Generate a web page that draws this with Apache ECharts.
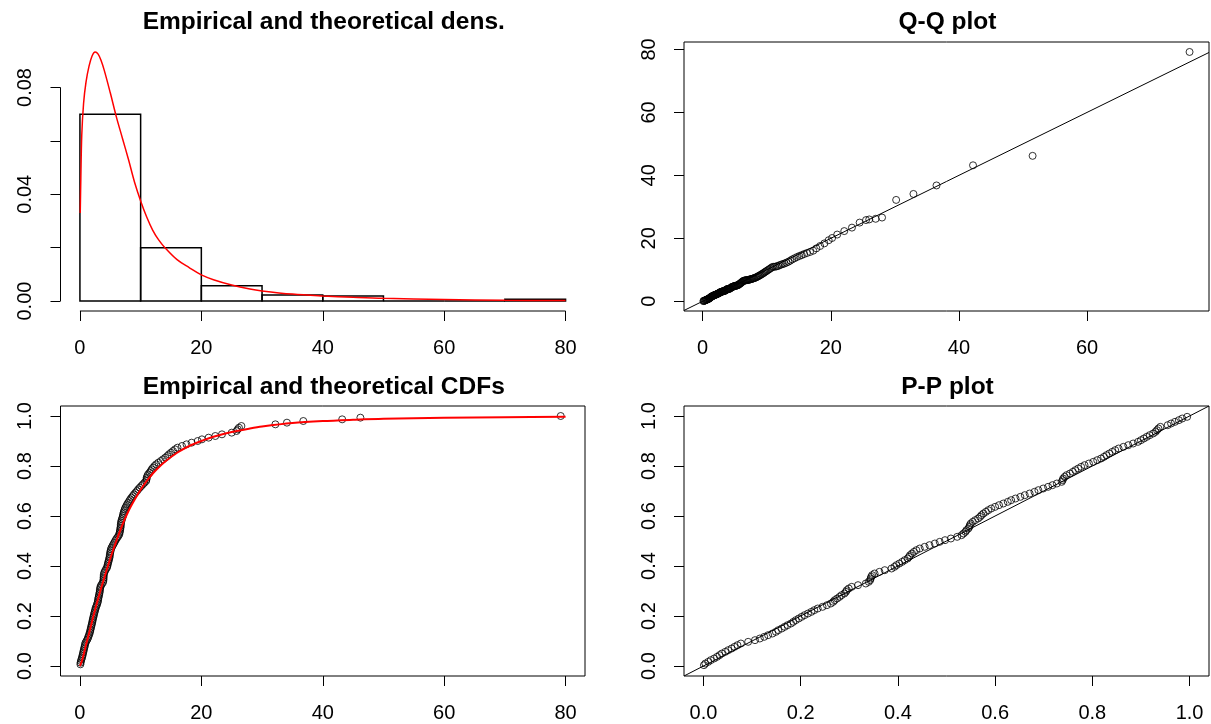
<!DOCTYPE html>
<html>
<head>
<meta charset="utf-8">
<script src="https://cdn.jsdelivr.net/npm/echarts@6/dist/echarts.min.js"></script>
<style>
html,body{margin:0;padding:0;background:#fff;}
#chart{width:1211px;height:724px;}
</style>
</head>
<body>
<div id="chart"></div>
<script>
// ---------------- data ----------------
const panelTitles = ["Empirical and theoretical dens.", "Q-Q plot", "Empirical and theoretical CDFs", "P-P plot"];

// histogram (density scale)
const histBinEdges = [0, 10, 20, 30, 40, 50, 60, 70, 80];
const histDensity = [0.0700, 0.0200, 0.0057, 0.0023, 0.0019, 0, 0, 0.0007];

// fitted (theoretical) density curve
const theoDensX = [0.05,0.15,0.3,0.6,1,1.5,2,2.5,3,3.5,4,5,6,7,8,9,10,11,12,13,14,16,18,20,22,25,28,30,35,40,45,50,60,70,80];
const theoDensY = [0.033,0.046,0.062,0.074,0.082,0.088,0.0918,0.0933,0.0925,0.0900,0.0865,0.078,0.069,0.061,0.053,0.0445,0.0375,0.0315,0.0265,0.0228,0.0200,0.0155,0.0125,0.0098,0.0080,0.0060,0.0045,0.0038,0.0026,0.0019,0.0014,0.0010,0.0006,0.0003,0.0002];

// fitted (theoretical) CDF curve
const theoCdfX = [0,0.25,0.5,1,1.5,2,2.5,3,3.5,4,5,6,7,8,9,10,11,12,13,14,16,18,20,22,25,28,30,35,40,45,50,60,70,80];
const theoCdfY = [0,0.015,0.035,0.085,0.13,0.178,0.225,0.27,0.312,0.352,0.43,0.5,0.565,0.62,0.665,0.705,0.74,0.77,0.795,0.817,0.853,0.88,0.9,0.917,0.936,0.95,0.958,0.972,0.98,0.985,0.989,0.993,0.995,0.997];

// empirical sample, sorted (n = 150)
const sampleSorted = [
0.08,0.10,0.17,0.25,0.34,0.41,0.475,0.53,0.60,0.66,
0.73,0.79,0.85,0.92,1.08,1.23,1.34,1.44,1.53,1.63,
1.70,1.75,1.82,1.89,1.95,2.02,2.07,2.13,2.19,2.26,
2.32,2.39,2.47,2.53,2.61,2.72,2.82,2.91,2.97,3.00,
3.06,3.12,3.17,3.24,3.27,3.30,3.35,3.42,3.58,3.78,
3.85,3.89,3.90,3.91,3.94,4.00,4.13,4.27,4.45,4.53,
4.58,4.65,4.73,4.79,4.87,4.91,4.94,4.99,5.04,5.11,
5.21,5.36,5.50,5.66,5.80,5.96,6.14,6.34,6.48,6.54,
6.60,6.63,6.69,6.72,6.74,6.77,6.83,6.91,7.00,7.07,
7.13,7.20,7.29,7.38,7.49,7.64,7.78,7.95,8.13,8.29,
8.49,8.71,8.91,9.15,9.40,9.60,9.85,10.11,10.37,10.63,
10.91,10.97,11.00,11.10,11.23,11.47,11.67,11.83,12.04,12.28,
12.56,12.92,13.32,13.68,14.06,14.39,14.67,15.00,15.33,15.67,
16.07,16.81,17.56,18.40,19.40,20.10,21.20,22.30,23.40,25.00,
25.80,26.00,26.20,26.60,32.20,34.10,36.80,43.20,46.20,79.20];

// theoretical quantiles (Q-Q x values)
const qqTheoretical = [
0.12,0.17,0.27,0.35,0.44,0.52,0.58,0.65,0.72,0.78,
0.85,0.92,0.98,1.06,1.13,1.20,1.28,1.35,1.43,1.50,
1.57,1.64,1.71,1.78,1.85,1.92,1.99,2.06,2.13,2.20,
2.27,2.34,2.41,2.48,2.56,2.63,2.70,2.78,2.85,2.93,
3.00,3.08,3.16,3.24,3.32,3.40,3.48,3.56,3.64,3.73,
3.81,3.89,3.98,4.06,4.14,4.23,4.31,4.40,4.49,4.57,
4.66,4.74,4.83,4.91,5.00,5.10,5.19,5.29,5.38,5.48,
5.57,5.67,5.76,5.86,5.95,6.05,6.15,6.26,6.36,6.46,
6.56,6.67,6.77,6.87,6.97,7.09,7.21,7.33,7.45,7.58,
7.70,7.82,7.94,8.07,8.22,8.37,8.52,8.67,8.81,8.96,
9.13,9.29,9.46,9.63,9.79,9.96,10.14,10.33,10.52,10.71,
10.90,11.11,11.33,11.56,11.78,12.00,12.27,12.53,12.80,13.08,
13.38,13.68,13.99,14.35,14.72,15.09,15.46,15.83,16.27,16.76,
17.26,17.75,18.33,19.00,19.67,20.20,21.00,22.10,23.30,24.50,
25.50,26.00,27.00,28.00,30.20,32.90,36.50,42.20,51.50,76.00];

// theoretical probabilities (P-P x values)
const ppTheoretical = [
0.001,0.004,0.010,0.015,0.022,0.028,0.033,0.038,0.045,0.051,
0.058,0.064,0.070,0.077,0.092,0.106,0.116,0.125,0.133,0.142,
0.149,0.154,0.161,0.167,0.173,0.180,0.185,0.190,0.196,0.202,
0.208,0.215,0.222,0.228,0.235,0.245,0.254,0.262,0.267,0.270,
0.275,0.280,0.284,0.290,0.293,0.295,0.299,0.305,0.318,0.334,
0.340,0.343,0.344,0.345,0.347,0.352,0.362,0.373,0.387,0.393,
0.397,0.403,0.409,0.414,0.420,0.423,0.425,0.429,0.433,0.438,
0.445,0.455,0.465,0.476,0.486,0.497,0.509,0.522,0.531,0.535,
0.539,0.541,0.545,0.547,0.548,0.550,0.554,0.559,0.565,0.569,
0.572,0.576,0.581,0.586,0.592,0.600,0.608,0.617,0.626,0.633,
0.642,0.652,0.661,0.671,0.681,0.689,0.699,0.709,0.718,0.727,
0.737,0.739,0.740,0.743,0.747,0.754,0.760,0.765,0.771,0.777,
0.784,0.793,0.802,0.810,0.818,0.824,0.829,0.835,0.841,0.847,
0.854,0.864,0.874,0.884,0.894,0.900,0.906,0.912,0.918,0.925,
0.930,0.933,0.936,0.940,0.955,0.962,0.970,0.978,0.985,0.995];

// tick positions / labels
const densXTicks = [0, 20, 40, 60, 80];
const densYTicks = [0, 0.02, 0.04, 0.06, 0.08];
const densYLabels = [0, 0.04, 0.08];
const qqXTicks = [0, 20, 40, 60];
const qqYTicks = [0, 20, 40, 60, 80];
const cdfXTicks = [0, 20, 40, 60, 80];
const probTicks = [0, 0.2, 0.4, 0.6, 0.8, 1.0];

// ---------------- build ----------------
const n = sampleSorted.length;
const ecdfY = sampleSorted.map((v, i) => (i + 1) / n);
const ppY = sampleSorted.map((v, i) => (i + 0.5) / n);

function padRange(lo, hi) { const r = hi - lo; return [lo - 0.04 * r, hi + 0.04 * r]; }
const densXR = padRange(0, 80);
const densYR = padRange(0, Math.max(...theoDensY));
const qqXR = padRange(Math.min(...qqTheoretical), Math.max(...qqTheoretical));
const qqYR = padRange(Math.min(...sampleSorted), Math.max(...sampleSorted));
const cdfXR = padRange(0, 80);
const probR = padRange(0, 1);

const FONT = "'Liberation Sans', Arial, sans-serif";
const grids = [
  {left: 60.5, top: 42, width: 524.5, height: 269},
  {left: 684, top: 42, width: 525, height: 269},
  {left: 60.5, top: 406, width: 524.5, height: 270},
  {left: 684, top: 406, width: 525, height: 270}
];
const titleTops = [5, 5, 370, 370];
const TRANSPARENT = 'rgba(0,0,0,0)';

function xAxisCfg(gi, range, ticks, fmt) {
  return {
    type: 'value', gridIndex: gi, min: range[0], max: range[1], position: 'bottom',
    axisLine: {show: true, onZero: false, lineStyle: {color: TRANSPARENT}}, splitLine: {show: false},
    axisTick: {show: true, inside: false, customValues: ticks, length: 10, lineStyle: {color: '#000', width: 1}},
    axisLabel: {show: true, customValues: ticks, color: '#000', fontSize: 20, fontFamily: FONT, margin: 27,
      formatter: fmt || (v => String(v))}
  };
}
function yAxisCfg(gi, range, ticks, labels, fmt) {
  return {
    type: 'value', gridIndex: gi, min: range[0], max: range[1], position: 'left',
    axisLine: {show: true, onZero: false, lineStyle: {color: TRANSPARENT}}, splitLine: {show: false},
    axisTick: {show: true, inside: false, customValues: ticks, length: 10, lineStyle: {color: '#000', width: 1}},
    axisLabel: {show: true, customValues: labels, color: '#000', fontSize: 20, fontFamily: FONT, margin: 25,
      rotate: 90, formatter: fmt || (v => String(v))}
  };
}

const option = {
  backgroundColor: '#fff',
  animation: false,
  title: panelTitles.map((t, i) => ({
    text: t,
    left: grids[i].left + grids[i].width / 2 - 4,
    top: titleTops[i],
    textAlign: 'center',
    textStyle: {fontSize: 24.5, fontWeight: 'bold', color: '#000', fontFamily: FONT}
  })),
  grid: grids.map((g, i) => Object.assign({
    show: i > 0, borderColor: '#000', borderWidth: 1, backgroundColor: 'transparent', containLabel: false
  }, g)),
  xAxis: [
    xAxisCfg(0, densXR, densXTicks),
    xAxisCfg(1, qqXR, qqXTicks),
    xAxisCfg(2, cdfXR, cdfXTicks),
    xAxisCfg(3, probR, probTicks, v => v.toFixed(1))
  ],
  yAxis: [
    yAxisCfg(0, densYR, densYTicks, densYLabels, v => v.toFixed(2)),
    yAxisCfg(1, qqYR, qqYTicks, qqYTicks),
    yAxisCfg(2, probR, probTicks, probTicks, v => v.toFixed(1)),
    yAxisCfg(3, probR, probTicks, probTicks, v => v.toFixed(1))
  ],
  series: [
    // panel 1 axis lines (R style: from first to last tick)
    {type: 'line', xAxisIndex: 0, yAxisIndex: 0, symbol: 'none', clip: false, silent: true,
      lineStyle: {color: '#000', width: 1},
      data: [[densXTicks[0], densYR[0]], [densXTicks[densXTicks.length - 1], densYR[0]]]},
    {type: 'line', xAxisIndex: 0, yAxisIndex: 0, symbol: 'none', clip: false, silent: true,
      lineStyle: {color: '#000', width: 1},
      data: [[densXR[0], densYTicks[0]], [densXR[0], densYTicks[densYTicks.length - 1]]]},
    // histogram
    {type: 'custom', xAxisIndex: 0, yAxisIndex: 0,
      data: histDensity.map((d, i) => [histBinEdges[i], histBinEdges[i + 1], d]),
      renderItem: function (params, api) {
        const p0 = api.coord([api.value(0), 0]);
        const p1 = api.coord([api.value(1), api.value(2)]);
        return {type: 'rect',
          shape: {x: p0[0], y: p1[1], width: p1[0] - p0[0], height: p0[1] - p1[1]},
          style: {fill: 'none', stroke: '#000', lineWidth: 1.5}};
      }},
    // theoretical density
    {type: 'line', xAxisIndex: 0, yAxisIndex: 0, symbol: 'none', smooth: 0.35,
      lineStyle: {color: '#ff0000', width: 1.5},
      data: theoDensX.map((x, i) => [x, theoDensY[i]])},
    // Q-Q reference line y = x
    {type: 'line', xAxisIndex: 1, yAxisIndex: 1, symbol: 'none', clip: true,
      lineStyle: {color: '#000', width: 1},
      data: [[qqXR[0], qqXR[0]], [qqXR[1], qqXR[1]]]},
    // Q-Q points
    {type: 'scatter', xAxisIndex: 1, yAxisIndex: 1, symbol: 'circle', symbolSize: 7,
      itemStyle: {color: TRANSPARENT, borderColor: '#000', borderWidth: 1},
      data: qqTheoretical.map((q, i) => [q, sampleSorted[i]])},
    // ECDF points
    {type: 'scatter', xAxisIndex: 2, yAxisIndex: 2, symbol: 'circle', symbolSize: 7,
      itemStyle: {color: TRANSPARENT, borderColor: '#000', borderWidth: 1},
      data: sampleSorted.map((v, i) => [v, ecdfY[i]])},
    // theoretical CDF
    {type: 'line', xAxisIndex: 2, yAxisIndex: 2, symbol: 'none', smooth: 0.3,
      lineStyle: {color: '#ff0000', width: 2},
      data: theoCdfX.map((x, i) => [x, theoCdfY[i]])},
    // P-P reference line
    {type: 'line', xAxisIndex: 3, yAxisIndex: 3, symbol: 'none', clip: true,
      lineStyle: {color: '#000', width: 1},
      data: [[probR[0], probR[0]], [probR[1], probR[1]]]},
    // P-P points
    {type: 'scatter', xAxisIndex: 3, yAxisIndex: 3, symbol: 'circle', symbolSize: 7,
      itemStyle: {color: TRANSPARENT, borderColor: '#000', borderWidth: 1},
      data: ppTheoretical.map((p, i) => [p, ppY[i]])}
  ]
};

const chart = echarts.init(document.getElementById('chart'), null, {renderer: 'canvas'});
chart.setOption(option);
</script>
</body>
</html>
